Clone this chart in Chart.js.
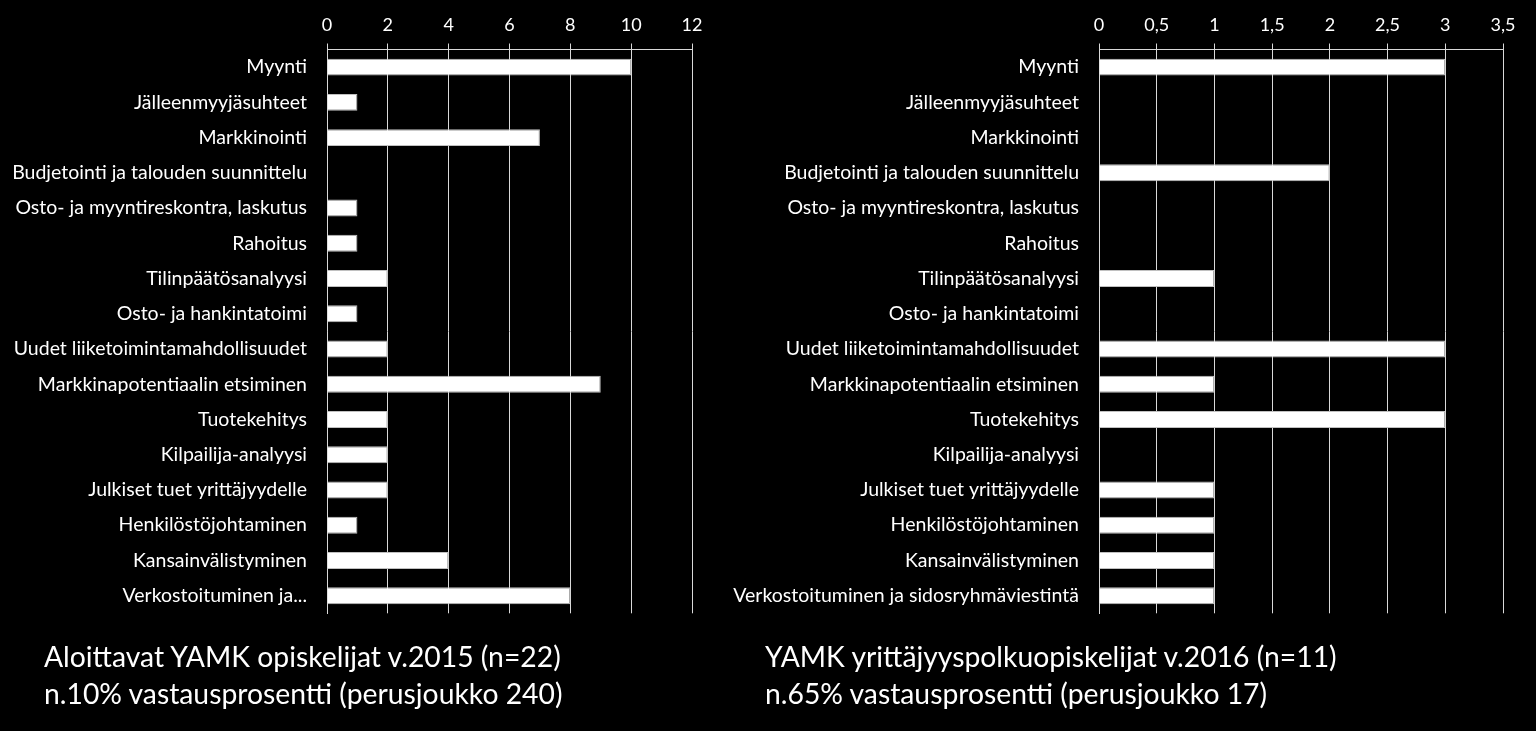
<!DOCTYPE html>
<html>
<head>
<meta charset="utf-8">
<script src="https://cdn.jsdelivr.net/npm/chart.js@4.4.1/dist/chart.umd.min.js"></script>
<style>
  html, body { margin: 0; padding: 0; background: #000; overflow: hidden; }
  body { width: 1536px; height: 731px; position: relative; font-family: Lato, "Open Sans", sans-serif; }
  /* taller than the plot: chart.js keeps ~31px free under a category axis here */
  .box { position: absolute; top: 0; height: 645px; }
  .caption { position: absolute; color: #fff; font-size: 28.3px; line-height: 37px; white-space: nowrap; }
</style>
</head>
<body>
<div class="box" style="left:0;width:720px"><canvas id="leftChart"></canvas></div>
<div class="box" style="left:720px;width:816px"><canvas id="rightChart"></canvas></div>
<div class="caption" style="left:44px;top:638px">Aloittavat YAMK opiskelijat v.2015 (n=22)<br>n.10% vastausprosentti (perusjoukko 240)</div>
<div class="caption" style="left:765px;top:638px">YAMK yrittäjyyspolkuopiskelijat v.2016 (n=11)<br>n.65% vastausprosentti (perusjoukko 17)</div>
<script>
const categories = [
  'Myynti',
  'Jälleenmyyjäsuhteet',
  'Markkinointi',
  'Budjetointi ja talouden suunnittelu',
  'Osto- ja myyntireskontra, laskutus',
  'Rahoitus',
  'Tilinpäätösanalyysi',
  'Osto- ja hankintatoimi',
  'Uudet liiketoimintamahdollisuudet',
  'Markkinapotentiaalin etsiminen',
  'Tuotekehitys',
  'Kilpailija-analyysi',
  'Julkiset tuet yrittäjyydelle',
  'Henkilöstöjohtaminen',
  'Kansainvälistyminen',
  'Verkostoituminen ja sidosryhmäviestintä'
];
// the left chart shows the last label cut short
const leftCategories = categories.slice(0, 15).concat(['Verkostoituminen ja...']);

const values2015 = [10, 1, 7, 0, 1, 1, 2, 1, 2, 9, 2, 2, 2, 1, 4, 8];
const values2016 = [3, 0, 0, 2, 0, 0, 1, 0, 3, 1, 3, 0, 1, 1, 1, 1];

const leftTicks = ['0', '2', '4', '6', '8', '10', '12'];
const rightTicks = ['0', '0,5', '1', '1,5', '2', '2,5', '3', '3,5'];

const gridColor = '#d9d9d9';

function makeChart(canvas, labels, values, max, step, tickLabels, axisWidth, padRight) {
  return new Chart(canvas, {
    type: 'bar',
    data: {
      labels: labels,
      datasets: [{
        data: values,
        backgroundColor: '#ffffff',
        borderColor: '#c0c0c0',
        borderWidth: ctx => (ctx.raw ? 1 : 0),
        barPercentage: 0.48,
        categoryPercentage: 1
      }]
    },
    options: {
      indexAxis: 'y',
      responsive: true,
      maintainAspectRatio: false,
      animation: false,
      layout: { padding: { top: 0, right: padRight, bottom: 0, left: 0 } },
      plugins: { legend: { display: false }, tooltip: { enabled: false } },
      scales: {
        x: {
          position: 'top',
          min: 0,
          max: max,
          ticks: {
            stepSize: step,
            color: '#ffffff',
            padding: 8,
            font: { family: 'Lato', size: 18 },
            callback: (v, i) => tickLabels[i]
          },
          grid: { color: gridColor, lineWidth: 1, tickLength: 6, drawTicks: true },
          border: { display: true, color: gridColor, width: 1 },
          afterFit: scale => { scale.height = 49.5; }
        },
        y: {
          ticks: {
            color: '#ffffff',
            padding: 20,
            font: { family: 'Lato', size: 19.5 }
          },
          grid: { display: false, drawTicks: false },
          border: { display: true, color: gridColor, width: 1 },
          afterFit: scale => { scale.width = axisWidth; }
        }
      }
    }
  });
}

makeChart(document.getElementById('leftChart'), leftCategories, values2015, 12, 2, leftTicks, 327, 28);
makeChart(document.getElementById('rightChart'), categories, values2016, 3.5, 0.5, rightTicks, 379, 33);
</script>
</body>
</html>
